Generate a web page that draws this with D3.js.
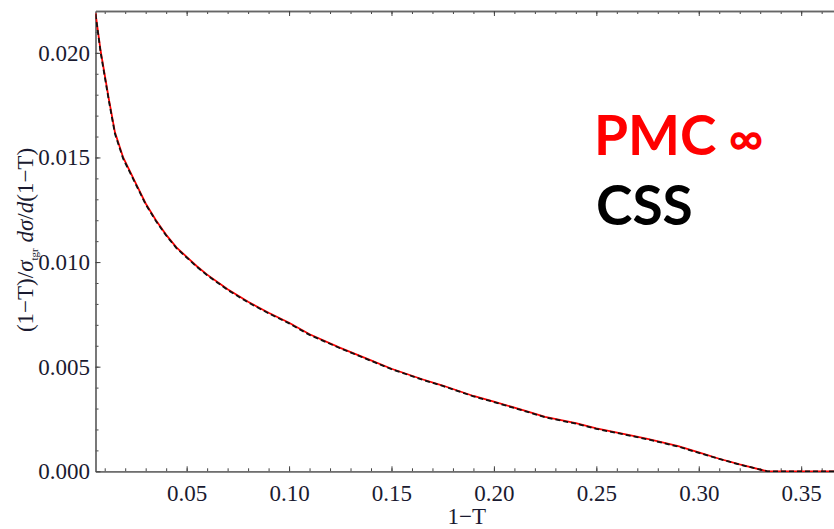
<!DOCTYPE html>
<html>
<head>
<meta charset="utf-8">
<script src="https://cdn.jsdelivr.net/npm/d3@7/dist/d3.min.js"></script>
<style>
  body { margin: 0; background: #fff; }
  svg { display: block; }
</style>
</head>
<body>
<div id="chart"></div>
<script>
// 1-T values and the two curves
const tauValues = [0.0055, 0.008, 0.012, 0.015, 0.019, 0.025, 0.03, 0.035, 0.04, 0.045,
  0.05, 0.055, 0.06, 0.07, 0.08, 0.09, 0.10, 0.11, 0.125, 0.14,
  0.15, 0.165, 0.175, 0.19, 0.20, 0.215, 0.225, 0.24, 0.25, 0.265,
  0.275, 0.29, 0.30, 0.31, 0.32, 0.3335, 0.37];
const pmcValues = [0.0219, 0.0201, 0.0178, 0.0162, 0.0150, 0.0138, 0.0128, 0.0120, 0.0113, 0.0107,
  0.01025, 0.0098, 0.0094, 0.0087, 0.0081, 0.00758, 0.0071, 0.00655, 0.0059, 0.0053,
  0.0049, 0.0044, 0.0041, 0.0036, 0.00333, 0.0029, 0.0026, 0.0023, 0.00205, 0.00175,
  0.00155, 0.0012, 0.0009, 0.0006, 0.00033, 0.0, 0.0];
const cssValues = [0.02185, 0.02002, 0.01772, 0.01613, 0.01494, 0.01375, 0.01276, 0.01196, 0.01127, 0.01067,
  0.01022, 0.00977, 0.00937, 0.00867, 0.00807, 0.00755, 0.00707, 0.00652, 0.00588, 0.00528,
  0.00488, 0.00438, 0.00408, 0.00358, 0.00331, 0.00288, 0.00258, 0.00228, 0.00203, 0.00173,
  0.00153, 0.00118, 0.00088, 0.00059, 0.00032, 0.0, 0.0];

const xMajorTicks = [0.05, 0.10, 0.15, 0.20, 0.25, 0.30, 0.35];
const yMajorTicks = [0.000, 0.005, 0.010, 0.015, 0.020];

const width = 834, height = 529;
const margin = {left: 95.5, top: 11, right: -2, bottom: 57.7};

const svg = d3.select("#chart").append("svg")
  .attr("width", width)
  .attr("height", height);

const x = d3.scaleLinear()
  .domain([0.0055, 0.367])
  .range([margin.left, width - margin.right]);
const y = d3.scaleLinear()
  .domain([0, 0.022])
  .range([height - margin.bottom, margin.top]);

const xMinor = d3.range(0.01, 0.37, 0.01).filter(v => x(v) > margin.left + 1);
const yMinor = d3.range(0.001, 0.022, 0.001);

const fontFamily = "'Liberation Serif', 'Times New Roman', serif";
const axisColor = "#666";
const labelColor = "#1a1a30";

function styleAxis(g) {
  g.select(".domain").attr("stroke", axisColor).attr("stroke-width", 1.3);
  g.selectAll(".tick line").attr("stroke", "#444").attr("stroke-width", 1);
  g.selectAll(".tick text")
    .attr("fill", labelColor)
    .attr("font-family", fontFamily)
    .attr("font-size", 23);
}

const yB = y(0), yT = margin.top;

// bottom axis
svg.append("g")
  .attr("transform", `translate(0,${yB})`)
  .call(d3.axisBottom(x).tickValues(xMinor).tickSize(-3).tickSizeOuter(0).tickFormat(""))
  .call(styleAxis);
svg.append("g")
  .attr("transform", `translate(0,${yB})`)
  .call(d3.axisBottom(x).tickValues(xMajorTicks).tickSize(-5).tickSizeOuter(0)
    .tickPadding(13).tickFormat(d3.format(".2f")))
  .call(styleAxis);

// top axis
svg.append("g")
  .attr("transform", `translate(0,${yT})`)
  .call(d3.axisTop(x).tickValues(xMinor).tickSize(-3).tickSizeOuter(0).tickFormat(""))
  .call(styleAxis);
svg.append("g")
  .attr("transform", `translate(0,${yT})`)
  .call(d3.axisTop(x).tickValues(xMajorTicks).tickSize(-5).tickSizeOuter(0).tickFormat(""))
  .call(styleAxis);

// left axis
svg.append("g")
  .attr("transform", `translate(${margin.left},0)`)
  .call(d3.axisLeft(y).tickValues(yMinor).tickSize(-3).tickSizeOuter(0).tickFormat(""))
  .call(styleAxis);
svg.append("g")
  .attr("transform", `translate(${margin.left},0)`)
  .call(d3.axisLeft(y).tickValues(yMajorTicks).tickSize(-5).tickSizeOuter(0)
    .tickPadding(5.5).tickFormat(d3.format(".3f")))
  .call(styleAxis);

// curves
const pmcData = tauValues.map((t, i) => [t, pmcValues[i]]);
const cssData = tauValues.map((t, i) => [t, cssValues[i]]);

const line = d3.line()
  .x(d => x(d[0]))
  .y(d => y(d[1]));

svg.append("defs").append("clipPath").attr("id", "plotClip")
  .append("rect")
  .attr("x", margin.left).attr("y", margin.top - 2)
  .attr("width", width - margin.left).attr("height", yB - margin.top + 3);

const curves = svg.append("g").attr("clip-path", "url(#plotClip)");
curves.append("path")
  .datum(pmcData)
  .attr("d", line)
  .attr("fill", "none")
  .attr("stroke", "#ff0000")
  .attr("stroke-width", 1.8);
curves.append("path")
  .datum(cssData)
  .attr("d", line)
  .attr("fill", "none")
  .attr("stroke", "#111")
  .attr("stroke-width", 1.8)
  .attr("stroke-dasharray", "5,3");

// axis labels
svg.append("text")
  .attr("x", (margin.left + width) / 2 + 2)
  .attr("y", 524)
  .attr("text-anchor", "middle")
  .attr("font-family", fontFamily)
  .attr("font-size", 23)
  .attr("fill", labelColor)
  .text("1\u2212T");

const yLabel = svg.append("text")
  .attr("transform", "translate(33,240) rotate(-90)")
  .attr("text-anchor", "middle")
  .attr("font-family", fontFamily)
  .attr("font-size", 23)
  .attr("fill", labelColor);
yLabel.append("tspan").text("(1\u2212T)/");
yLabel.append("tspan").attr("font-style", "italic").text("\u03c3");
yLabel.append("tspan").attr("font-size", 11).attr("dy", 5).text("tgr");
yLabel.append("tspan").attr("dy", -5).text(" ");
yLabel.append("tspan").attr("font-style", "italic").text("d\u03c3");
yLabel.append("tspan").text("/");
yLabel.append("tspan").attr("font-style", "italic").text("d");
yLabel.append("tspan").text("(1\u2212T)");

// legend
const legendFont = "Lato, 'Open Sans', sans-serif";
const pmcLabel = svg.append("text")
  .attr("x", 594)
  .attr("y", 155)
  .attr("font-family", legendFont)
  .attr("font-weight", "bold")
  .attr("font-size", 55)
  .attr("fill", "#ff0000");
pmcLabel.append("tspan").text("PMC");
pmcLabel.append("tspan").attr("dx", 12).attr("font-size", 48).text("\u221e");

svg.append("text")
  .attr("x", 596)
  .attr("y", 225)
  .attr("font-family", legendFont)
  .attr("font-weight", "bold")
  .attr("font-size", 55)
  .attr("fill", "#000")
  .text("CSS");
</script>
</body>
</html>
